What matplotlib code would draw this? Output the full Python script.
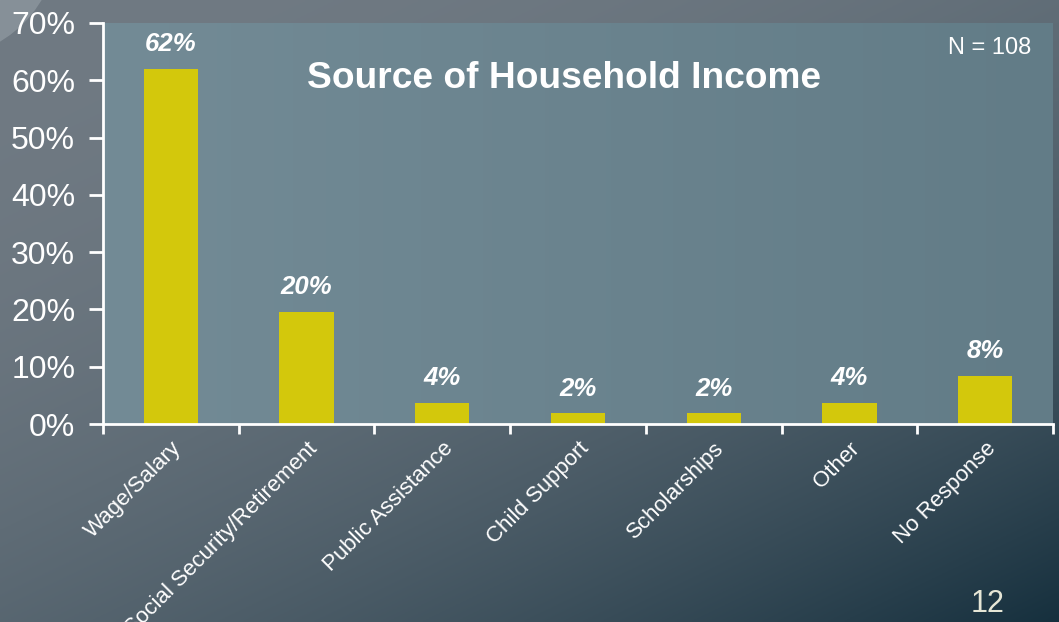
import numpy as np
import matplotlib.pyplot as plt
from matplotlib.patches import Circle
from matplotlib.ticker import FuncFormatter

plt.rcParams['font.family'] = ['Liberation Sans', 'DejaVu Sans']

# Data (N = 108)
categories = ['Wage/Salary', 'Social Security/Retirement', 'Public Assistance',
              'Child Support', 'Scholarships', 'Other', 'No Response']
shares = [62.0, 19.6, 3.7, 1.9, 1.9, 3.7, 8.4]
labels = ['62%', '20%', '4%', '2%', '2%', '4%', '8%']
y_ticks = [0, 10, 20, 30, 40, 50, 60, 70]

W, H = 1059, 622
fig = plt.figure(figsize=(W / 100, H / 100), dpi=100)

# slide background: diagonal grey-to-teal gradient
bg = fig.add_axes([0, 0, 1, 1], zorder=-10)
xx, yy = np.meshgrid(np.linspace(0, 1, 400), np.linspace(0, 1, 240))
t = np.clip((xx * 0.9 + yy * 1.1) / 2, 0, 1) ** 2.2
light = np.array([112, 122, 131]) / 255
dark = np.array([22, 48, 62]) / 255
img = light[None, None, :] * (1 - t[..., None]) + dark[None, None, :] * t[..., None]
bg.imshow(img, extent=(0, W, H, 0), aspect='auto')
bg.add_patch(Circle((-60, -60), 118, color='#8d979e', alpha=0.8, lw=0))
bg.set_xlim(0, W)
bg.set_ylim(H, 0)
bg.axis('off')

ax = fig.add_axes([103 / W, 1 - 424 / H, 950 / W, 401 / H])
x = np.arange(len(categories))

# plot area fill, slightly darker towards the right
pa = np.linspace(0, 1, 200)
pa_img = (np.array([115, 139, 150]) / 255)[None, None, :] * (1 - pa[None, :, None]) \
    + (np.array([98, 124, 135]) / 255)[None, None, :] * pa[None, :, None]
ax.imshow(pa_img, extent=(-0.5, len(categories) - 0.5, 0, 70), aspect='auto', zorder=0)

ax.bar(x, shares, width=0.4, color='#d3c80c', zorder=2)

for xi, v, lab in zip(x, shares, labels):
    ax.annotate(lab, (xi, v), xytext=(0, 9), textcoords='offset points',
                ha='center', va='bottom', color='white', fontsize=18.5,
                fontweight='bold', fontstyle='italic')

ax.set_xlim(-0.5, len(categories) - 0.5)
ax.set_ylim(0, 70)
ax.set_yticks(y_ticks)
ax.yaxis.set_major_formatter(FuncFormatter(lambda v, p: f'{v:.0f}%'))
ax.set_xticks(np.arange(len(categories) + 1) - 0.5)
ax.set_xticklabels([])
ax.set_xticks(x, minor=True)
ax.set_xticklabels(categories, minor=True, rotation=45, ha='right',
                   rotation_mode='anchor', fontsize=16, color='white')
ax.tick_params(axis='x', which='minor', length=0, pad=10)
ax.tick_params(axis='x', which='major', length=7, width=2, color='white')
ax.tick_params(axis='y', length=10, width=2, color='white', labelcolor='white',
               labelsize=23, pad=10)

for s in ['top', 'right']:
    ax.spines[s].set_visible(False)
for s in ['left', 'bottom']:
    ax.spines[s].set_color('white')
    ax.spines[s].set_linewidth(2)

ax.text(0.485, 0.862, 'Source of Household Income', transform=ax.transAxes,
        ha='center', va='center', color='white', fontsize=26.7, fontweight='bold')
ax.text(0.977, 0.938, 'N = 108', transform=ax.transAxes, ha='right', va='center',
        color='white', fontsize=17)

fig.text(988 / W, 1 - 604 / H, '12', ha='center', va='center', color='#e6e6d6',
         fontsize=22)

fig.savefig('out.png', dpi=100)
